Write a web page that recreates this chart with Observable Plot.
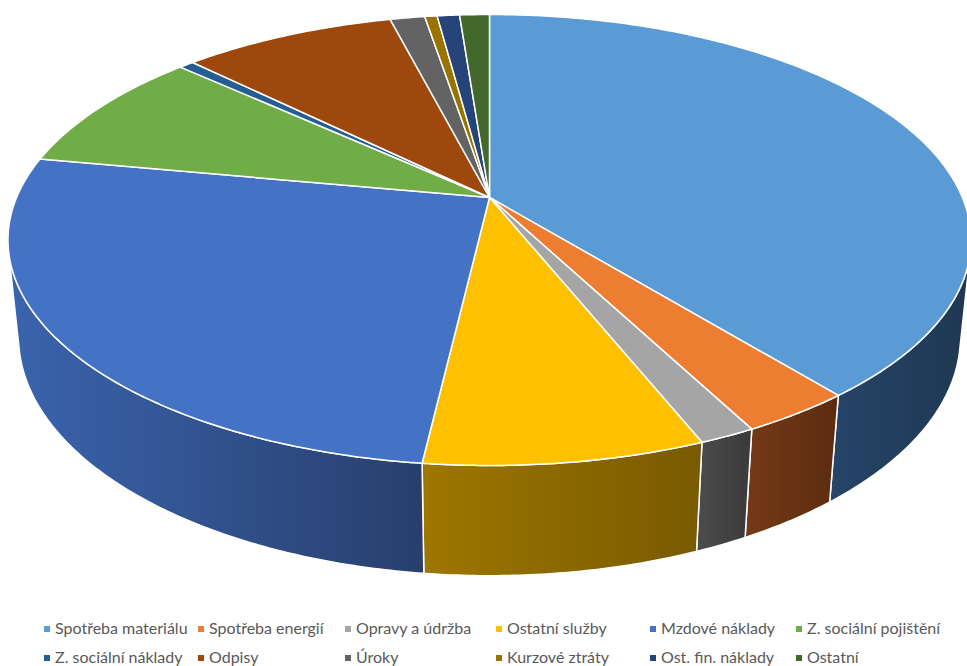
<!DOCTYPE html>
<html>
<head>
<meta charset="utf-8">
<script src="https://cdn.jsdelivr.net/npm/d3@7"></script>
<script src="https://cdn.jsdelivr.net/npm/@observablehq/plot@0.6"></script>
<style>
  html, body { margin: 0; padding: 0; background: #fff; }
  #wrap { position: relative; width: 967px; height: 666px; overflow: hidden; }
  #legend { position: absolute; left: 0; top: 0; width: 967px; height: 666px; pointer-events: none;
    font-family: Lato, "Liberation Sans", sans-serif; font-size: 16px; color: #595959; }
  .li { position: absolute; white-space: nowrap; line-height: 18px; }
  .sw { display: inline-block; width: 6px; height: 6px; margin-right: 5px; vertical-align: 2px; }
</style>
</head>
<body>
<div id="wrap"><div id="chart"></div><div id="legend"></div></div>
<script>
// ---- data (share of total in %) ----
const categories = [
  "Spotřeba materiálu", "Spotřeba energií", "Opravy a údržba", "Ostatní služby",
  "Mzdové náklady", "Z. sociální pojištění", "Z. sociální náklady", "Odpisy",
  "Úroky", "Kurzové ztráty", "Ost. fin. náklady", "Ostatní"
];
const values = [39.2, 3.2, 1.6, 7.9, 26.1, 8.9, 0.6, 8.6, 1.4, 0.5, 0.9, 1.2];
const topColors = [
  "#5B9BD5", "#ED7D31", "#A5A5A5", "#FFC000", "#4472C4", "#70AD47",
  "#255E91", "#9E480E", "#636363", "#997300", "#264478", "#43682B"
];
const sideLight = [
  "#26456A", "#743A16", "#4C4C4C", "#9E7700", "#3A64AE", "#4F7A32",
  "#1A4266", "#6F330A", "#464646", "#6B5100", "#1B3054", "#2F4A1E"
];
const sideDark = [
  "#1F3751", "#5C2C0F", "#3A3A3A", "#785A00", "#283F6C", "#3B5B25",
  "#13304B", "#532607", "#343434", "#503D00", "#14243F", "#233716"
];

// ---- 3D view (perspective) ----
const W = 967, HSVG = 610;
const CX = 489, CY = 197, FX = 2238, FY = 2276;
const R = 0.2113, S = 0.4522, C = 0.892, H = 0.0481;
function proj(theta, rho, Y) {
  const X = R * rho * Math.sin(theta), Z = R * rho * Math.cos(theta);
  const yc = Y * C + Z * S, zc = 1 + Z * C - Y * S;
  return [CX + FX * X / zc, CY - FY * yc / zc];
}
const visA = Math.acos(-R / C), visB = 2 * Math.PI - visA;

const arcs = d3.pie().sort(null).value(d => d)(values);

const topPts = [];
const sidePts = [];
arcs.forEach((a, i) => {
  const n = Math.max(4, Math.ceil((a.endAngle - a.startAngle) / 0.01));
  const pts = [[CX, CY]];
  for (let k = 0; k <= n; k++) {
    const t = a.startAngle + (a.endAngle - a.startAngle) * k / n;
    pts.push(proj(t, 1, 0));
  }
  pts.push([CX, CY]);
  pts.forEach(([x, y]) => topPts.push({id: i, x, y}));

  const s0 = Math.max(a.startAngle, visA), s1 = Math.min(a.endAngle, visB);
  if (s1 > s0) {
    const m = Math.max(4, Math.ceil((s1 - s0) / 0.01));
    const up = [], dn = [];
    for (let k = 0; k <= m; k++) {
      const t = s0 + (s1 - s0) * k / m;
      up.push(proj(t, 1, 0));
      dn.push(proj(t, 1, -H));
    }
    const ring = up.concat(dn.reverse());
    ring.push(up[0]);
    sidePts.push({id: i, pts: ring});
  }
});

const sideMarks = sidePts.map(s =>
  Plot.line(s.pts.map(([x, y]) => ({x, y})), {
    x: "x", y: "y", fill: `url(#side${s.id})`, stroke: "#ffffff", strokeWidth: 1.5,
    strokeLinejoin: "round", curve: "linear"
  })
);

const chart = Plot.plot({
  width: W, height: HSVG,
  margin: 0,
  x: {domain: [0, W], range: [0, W], axis: null},
  y: {domain: [0, HSVG], range: [0, HSVG], axis: null},
  color: {type: "identity"},
  marks: [
    ...sideMarks,
    Plot.line(topPts, {
      x: "x", y: "y", z: "id", fill: d => topColors[d.id],
      stroke: "#ffffff", strokeWidth: 1.5, strokeLinejoin: "round", curve: "linear"
    })
  ]
});

// gradients for side faces
let defs = "<defs>";
categories.forEach((c, i) => {
  defs += `<linearGradient id="side${i}" x1="0" y1="0" x2="1" y2="0">
    <stop offset="0" stop-color="${sideLight[i]}"/><stop offset="1" stop-color="${sideDark[i]}"/></linearGradient>`;
});
defs += "</defs>";
chart.insertAdjacentHTML("afterbegin", defs);
document.getElementById("chart").appendChild(chart);

// legend
const colX = [44, 198, 345, 496, 650, 796];
const rowY = [619, 648];
const leg = document.getElementById("legend");
categories.forEach((c, i) => {
  const row = Math.floor(i / 6), col = i % 6;
  const el = document.createElement("div");
  el.className = "li";
  el.style.left = colX[col] + "px";
  el.style.top = rowY[row] + "px";
  el.innerHTML = `<span class="sw" style="background:${topColors[i]}"></span>${c}`;
  leg.appendChild(el);
});
</script>
</body>
</html>
